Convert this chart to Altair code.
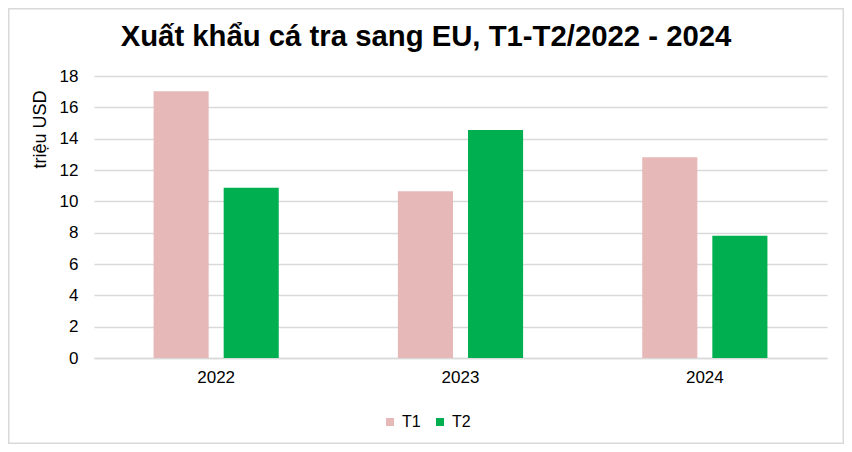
import altair as alt
import pandas as pd

years = ["2022", "2023", "2024"]
series = ["T1", "T2"]
t1 = [17.03, 10.65, 12.82]
t2 = [10.86, 14.55, 7.8]
colors = ["#e6b8b7", "#00b050"]
title_text = "Xuất khẩu cá tra sang EU, T1-T2/2022 - 2024"

rows = []
for i, y in enumerate(years):
    rows.append({"year": y, "series": "T1", "value": t1[i]})
    rows.append({"year": y, "series": "T2", "value": t2[i]})
df = pd.DataFrame(rows)

FONT = "Liberation Sans"

bars = alt.Chart(df).mark_bar().encode(
    x=alt.X("year:N", sort=years, title=None,
            scale=alt.Scale(paddingInner=0.0, paddingOuter=0.0),
            axis=alt.Axis(labelAngle=0, labelFontSize=17, labelColor="#000000",
                          labelFont=FONT, ticks=False, domainColor="#d9d9d9",
                          domainWidth=1.5, labelPadding=11)),
    xOffset=alt.XOffset("series:N", sort=series,
                        scale=alt.Scale(paddingInner=0.214, paddingOuter=0.85)),
    y=alt.Y("value:Q", title="triệu USD",
            scale=alt.Scale(domain=[0, 18], nice=False),
            axis=alt.Axis(values=list(range(0, 19, 2)), labelFontSize=17,
                          labelColor="#000000", labelFont=FONT, ticks=False,
                          domain=False, gridColor="#d9d9d9", gridWidth=1.5,
                          labelPadding=16, titleFontSize=18, titleFont=FONT,
                          titleFontWeight="normal", titleColor="#000000",
                          titleX=-54, titleY=53, titleAngle=270,
                          titleBaseline="middle", titleAlign="center")),
    color=alt.Color("series:N", sort=series,
                    scale=alt.Scale(domain=series, range=colors),
                    legend=alt.Legend(title=None, orient="none", direction="horizontal",
                                      legendX=288, legendY=338, symbolType="square",
                                      symbolSize=64, symbolStrokeWidth=0,
                                      labelFontSize=16, labelFont=FONT,
                                      labelColor="#000000", columnPadding=11,
                                      labelOffset=4)),
)

one = pd.DataFrame({"t": [title_text]})

border = alt.Chart(one).mark_rect(
    fill="white", fillOpacity=0, stroke="#d9d9d9", strokeWidth=1.5
).encode(x=alt.value(-85.25), x2=alt.value(749.25), y=alt.value(-67.25), y2=alt.value(367.25))

title = alt.Chart(one).mark_text(
    fontSize=29.3, font=FONT, fontWeight="bold", color="#000000",
    align="center", baseline="middle"
).encode(text="t:N", x=alt.value(332), y=alt.value(-39))

chart = alt.layer(border, bars, title).properties(
    width=733, height=282,
    autosize=alt.AutoSizeParams(type="none"),
    padding={"left": 86, "top": 68, "right": 17, "bottom": 86},
).configure(background="white").configure_view(stroke=None)

chart.save("out.html", embed_options={"renderer": "svg", "actions": False})
